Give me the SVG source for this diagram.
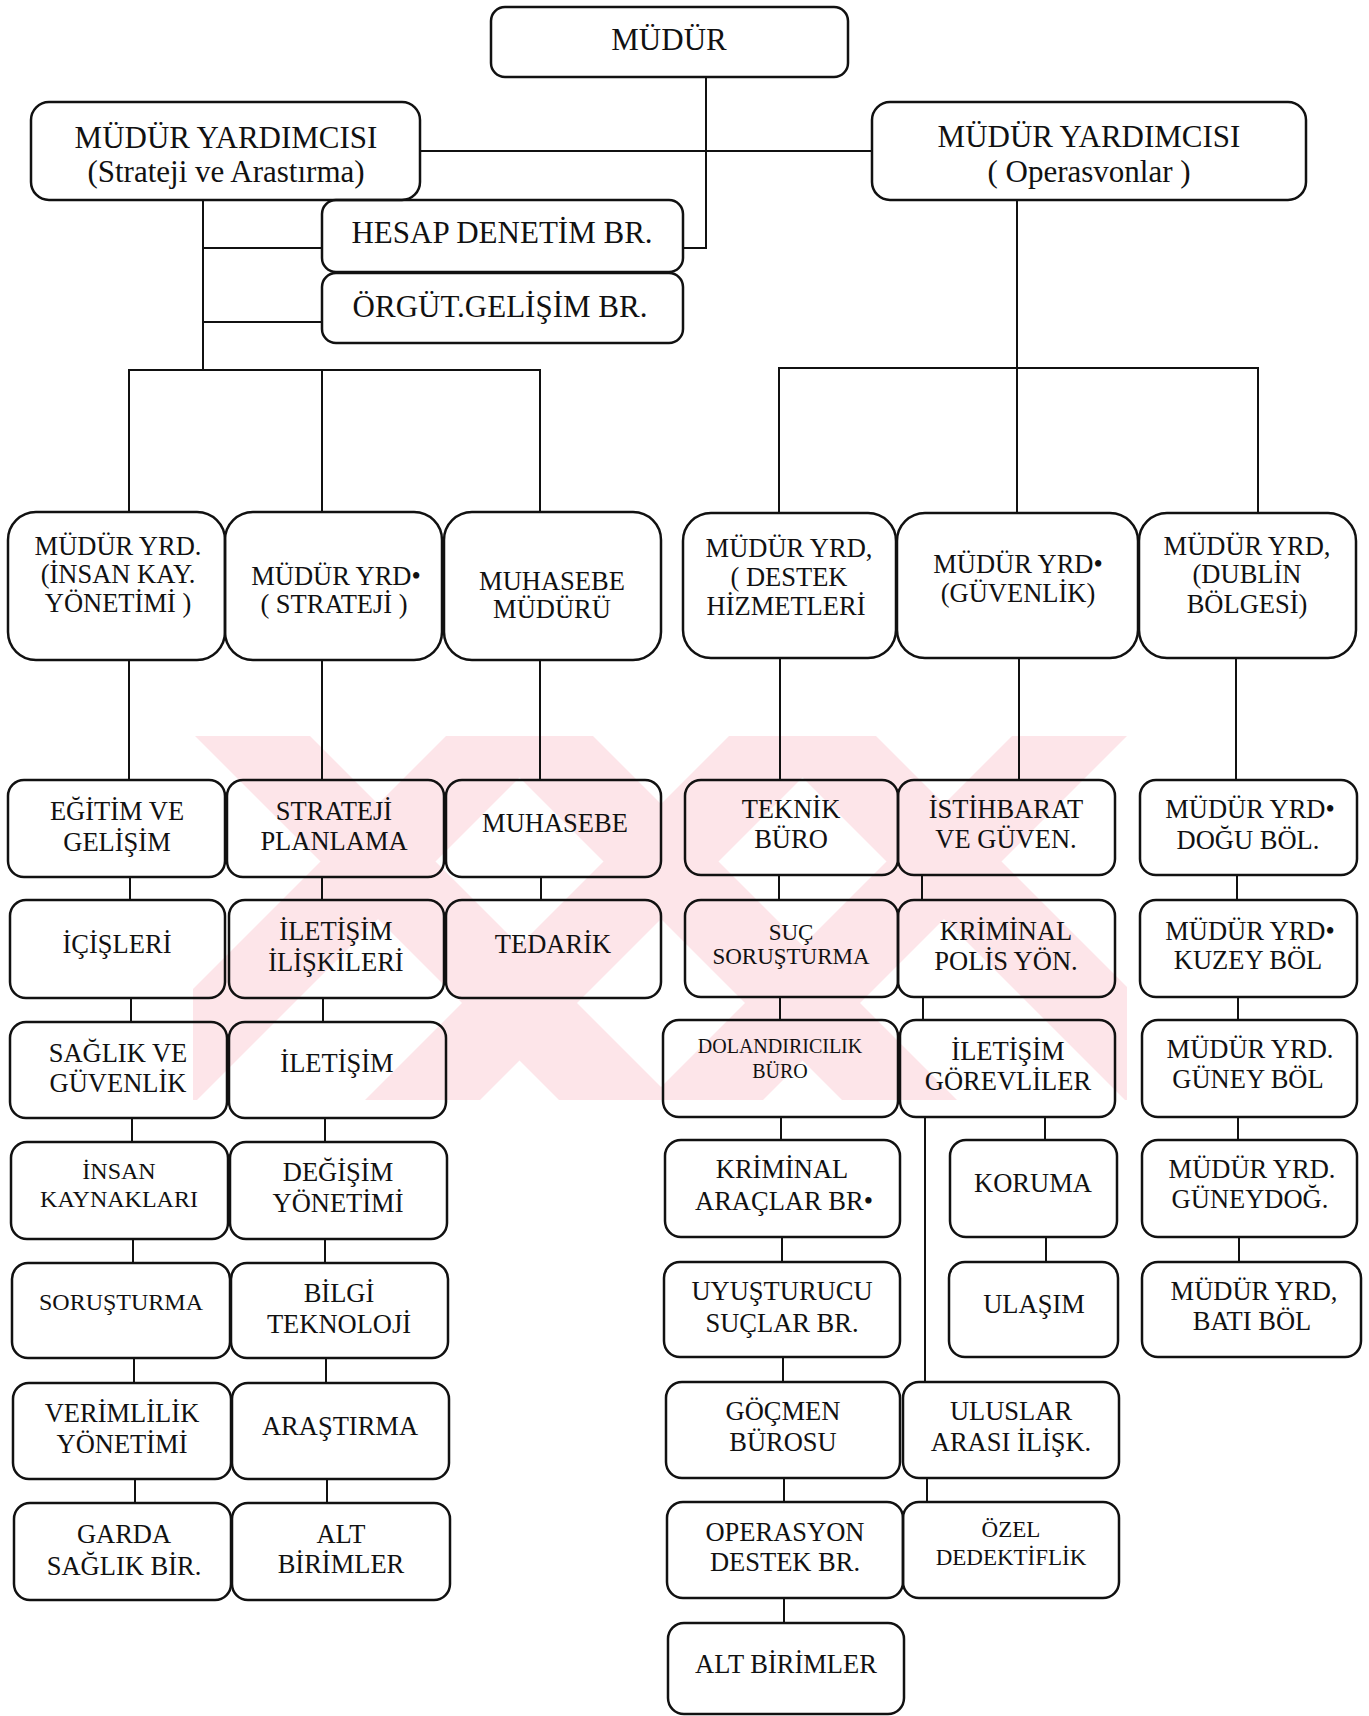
<svg xmlns="http://www.w3.org/2000/svg" width="1369" height="1716" viewBox="0 0 1369 1716">
<defs>
<style>
.b{fill:none;stroke:#111;stroke-width:2.5}
.t{font-family:"Liberation Serif","Times New Roman",serif;fill:#111;text-anchor:middle;font-size:26.5px}
.f31{font-size:31px}
.f24{font-size:24px}
.f23{font-size:23px}
.f20{font-size:20px}
.c{stroke:#111;stroke-width:2;fill:none}
.wm{fill:#fde5e9}
</style>
<clipPath id="wmc"><rect x="193" y="736" width="934" height="364"/></clipPath>
</defs>
<rect x="0" y="0" width="1369" height="1716" fill="#fff"/>
<g id="watermark" clip-path="url(#wmc)" class="wm">
<polygon points="195,736 310,736 674,1100 559,1100"/>
<polygon points="478,736 593,736 957,1100 842,1100"/>
<polygon points="761,736 876,736 1240,1100 1125,1100"/>
<polygon points="1012,736 1127,736 763,1100 648,1100"/>
<polygon points="729,736 844,736 480,1100 365,1100"/>
<polygon points="446,736 561,736 197,1100 82,1100"/>
</g>
<g id="connectors">
<polyline class="c" points="706,77 706,248 683,248"/>
<line class="c" x1="420" y1="151" x2="872" y2="151"/>
<line class="c" x1="203" y1="200" x2="203" y2="370"/>
<line class="c" x1="203" y1="248" x2="322" y2="248"/>
<line class="c" x1="203" y1="322" x2="322" y2="322"/>
<polyline class="c" points="129,512 129,370 540,370 540,512"/>
<line class="c" x1="322" y1="370" x2="322" y2="512"/>
<line class="c" x1="1017" y1="200" x2="1017" y2="513"/>
<polyline class="c" points="779,513 779,368 1258,368 1258,513"/>
<line class="c" x1="129" y1="660" x2="129" y2="780"/>
<line class="c" x1="322" y1="660" x2="322" y2="780"/>
<line class="c" x1="540" y1="660" x2="540" y2="780"/>
<line class="c" x1="780" y1="658" x2="780" y2="780"/>
<line class="c" x1="1019" y1="658" x2="1019" y2="780"/>
<line class="c" x1="1236" y1="658" x2="1236" y2="780"/>
<line class="c" x1="130" y1="877" x2="130" y2="900"/>
<line class="c" x1="131" y1="998" x2="131" y2="1022"/>
<line class="c" x1="132" y1="1118" x2="132" y2="1142"/>
<line class="c" x1="133" y1="1239" x2="133" y2="1263"/>
<line class="c" x1="134" y1="1358" x2="134" y2="1383"/>
<line class="c" x1="135" y1="1479" x2="135" y2="1503"/>
<line class="c" x1="322" y1="877" x2="322" y2="900"/>
<line class="c" x1="323" y1="998" x2="323" y2="1022"/>
<line class="c" x1="325" y1="1118" x2="325" y2="1142"/>
<line class="c" x1="325" y1="1239" x2="325" y2="1263"/>
<line class="c" x1="326" y1="1358" x2="326" y2="1383"/>
<line class="c" x1="327" y1="1479" x2="327" y2="1503"/>
<line class="c" x1="541" y1="877" x2="541" y2="900"/>
<line class="c" x1="779" y1="875" x2="779" y2="900"/>
<line class="c" x1="780" y1="997" x2="780" y2="1020"/>
<line class="c" x1="781" y1="1117" x2="781" y2="1140"/>
<line class="c" x1="782" y1="1237" x2="782" y2="1262"/>
<line class="c" x1="783" y1="1357" x2="783" y2="1382"/>
<line class="c" x1="784" y1="1478" x2="784" y2="1502"/>
<line class="c" x1="784" y1="1598" x2="784" y2="1623"/>
<line class="c" x1="922" y1="875" x2="922" y2="900"/>
<line class="c" x1="923" y1="997" x2="923" y2="1020"/>
<line class="c" x1="925" y1="1117" x2="925" y2="1382"/>
<line class="c" x1="1045" y1="1117" x2="1045" y2="1140"/>
<line class="c" x1="1046" y1="1237" x2="1046" y2="1262"/>
<line class="c" x1="927" y1="1478" x2="927" y2="1502"/>
<line class="c" x1="1237" y1="875" x2="1237" y2="900"/>
<line class="c" x1="1238" y1="997" x2="1238" y2="1020"/>
<line class="c" x1="1238" y1="1117" x2="1238" y2="1140"/>
<line class="c" x1="1239" y1="1237" x2="1239" y2="1262"/>
</g>
<g id="n_mudur"><rect class="b" x="491" y="7" width="357" height="70" rx="14"/><text class="t f31" x="669" y="50">MÜDÜR</text></g>
<g id="n_mys"><rect class="b" x="31" y="102" width="389" height="98" rx="18"/><text class="t f31" x="226" y="148">MÜDÜR YARDIMCISI</text><text class="t f31" x="226" y="182">(Strateji ve Arastırma)</text></g>
<g id="n_myo"><rect class="b" x="872" y="102" width="434" height="98" rx="18"/><text class="t f31" x="1089" y="147">MÜDÜR YARDIMCISI</text><text class="t f31" x="1089" y="182">( Operasvonlar )</text></g>
<g id="n_hesap"><rect class="b" x="322" y="200" width="361" height="72" rx="14"/><text class="t f31" x="502" y="243">HESAP DENETİM BR.</text></g>
<g id="n_orgut"><rect class="b" x="322" y="273" width="361" height="70" rx="14"/><text class="t f31" x="500" y="317">ÖRGÜT.GELİŞİM BR.</text></g>
<g id="n_l2_ik"><rect class="b" x="8" y="512" width="217" height="148" rx="28"/><text class="t" x="118" y="555">MÜDÜR YRD.</text><text class="t" x="118" y="583">(İNSAN KAY.</text><text class="t" x="118" y="612">YÖNETİMİ )</text></g>
<g id="n_l2_str"><rect class="b" x="225" y="512" width="217" height="148" rx="28"/><text class="t" x="336" y="585">MÜDÜR YRD•</text><text class="t" x="334" y="613">( STRATEJİ )</text></g>
<g id="n_l2_muh"><rect class="b" x="444" y="512" width="217" height="148" rx="28"/><text class="t" x="552" y="590">MUHASEBE</text><text class="t" x="552" y="618">MÜDÜRÜ</text></g>
<g id="n_l2_des"><rect class="b" x="683" y="513" width="213" height="145" rx="28"/><text class="t" x="789" y="557">MÜDÜR YRD,</text><text class="t" x="789" y="586">( DESTEK</text><text class="t" x="786" y="615">HİZMETLERİ</text></g>
<g id="n_l2_guv"><rect class="b" x="897" y="513" width="241" height="145" rx="28"/><text class="t" x="1018" y="573">MÜDÜR YRD•</text><text class="t" x="1018" y="602">(GÜVENLİK)</text></g>
<g id="n_l2_dub"><rect class="b" x="1139" y="513" width="217" height="145" rx="28"/><text class="t" x="1247" y="555">MÜDÜR YRD,</text><text class="t" x="1247" y="583">(DUBLİN</text><text class="t" x="1247" y="613">BÖLGESİ)</text></g>
<g id="n_egitim"><rect class="b" x="8" y="780" width="217" height="97" rx="16"/><text class="t" x="117" y="820">EĞİTİM VE</text><text class="t" x="117" y="851">GELİŞİM</text></g>
<g id="n_strplan"><rect class="b" x="227" y="780" width="217" height="97" rx="16"/><text class="t" x="334" y="820">STRATEJİ</text><text class="t" x="334" y="850">PLANLAMA</text></g>
<g id="n_muhasebe"><rect class="b" x="446" y="780" width="215" height="97" rx="16"/><text class="t" x="555" y="832">MUHASEBE</text></g>
<g id="n_icisleri"><rect class="b" x="10" y="900" width="215" height="98" rx="16"/><text class="t" x="117" y="953">İÇİŞLERİ</text></g>
<g id="n_iletilis"><rect class="b" x="229" y="900" width="215" height="98" rx="16"/><text class="t" x="336" y="940">İLETİŞİM</text><text class="t" x="336" y="971">İLİŞKİLERİ</text></g>
<g id="n_tedarik"><rect class="b" x="446" y="900" width="215" height="98" rx="16"/><text class="t" x="553" y="953">TEDARİK</text></g>
<g id="n_saglik"><rect class="b" x="10" y="1022" width="217" height="96" rx="16"/><text class="t" x="118" y="1062">SAĞLIK VE</text><text class="t" x="118" y="1092">GÜVENLİK</text></g>
<g id="n_iletisim"><rect class="b" x="229" y="1022" width="217" height="96" rx="16"/><text class="t" x="337" y="1072">İLETİŞİM</text></g>
<g id="n_insan"><rect class="b" x="11" y="1142" width="217" height="97" rx="16"/><text class="t f24" x="119" y="1179">İNSAN</text><text class="t f24" x="119" y="1207">KAYNAKLARI</text></g>
<g id="n_degisim"><rect class="b" x="230" y="1142" width="217" height="97" rx="16"/><text class="t" x="338" y="1181">DEĞİŞİM</text><text class="t" x="338" y="1212">YÖNETİMİ</text></g>
<g id="n_sorusturma"><rect class="b" x="12" y="1263" width="218" height="95" rx="16"/><text class="t f24" x="121" y="1310">SORUŞTURMA</text></g>
<g id="n_bilgi"><rect class="b" x="231" y="1263" width="217" height="95" rx="16"/><text class="t" x="339" y="1302">BİLGİ</text><text class="t" x="339" y="1333">TEKNOLOJİ</text></g>
<g id="n_verim"><rect class="b" x="13" y="1383" width="218" height="96" rx="16"/><text class="t" x="122" y="1422">VERİMLİLİK</text><text class="t" x="122" y="1453">YÖNETİMİ</text></g>
<g id="n_arastirma"><rect class="b" x="232" y="1383" width="217" height="96" rx="16"/><text class="t" x="340" y="1435">ARAŞTIRMA</text></g>
<g id="n_garda"><rect class="b" x="14" y="1503" width="217" height="97" rx="16"/><text class="t" x="124" y="1543">GARDA</text><text class="t" x="124" y="1575">SAĞLIK BİR.</text></g>
<g id="n_alt1"><rect class="b" x="232" y="1503" width="218" height="97" rx="16"/><text class="t" x="341" y="1543">ALT</text><text class="t" x="341" y="1573">BİRİMLER</text></g>
<g id="n_teknik"><rect class="b" x="685" y="780" width="213" height="95" rx="16"/><text class="t" x="791" y="818">TEKNİK</text><text class="t" x="791" y="848">BÜRO</text></g>
<g id="n_istihbarat"><rect class="b" x="898" y="780" width="217" height="95" rx="16"/><text class="t" x="1006" y="818">İSTİHBARAT</text><text class="t" x="1006" y="848">VE GÜVEN.</text></g>
<g id="n_dogu"><rect class="b" x="1140" y="780" width="217" height="95" rx="16"/><text class="t" x="1250" y="818">MÜDÜR YRD•</text><text class="t" x="1248" y="849">DOĞU BÖL.</text></g>
<g id="n_suc"><rect class="b" x="685" y="900" width="213" height="97" rx="16"/><text class="t f23" x="791" y="940">SUÇ</text><text class="t f23" x="791" y="964">SORUŞTURMA</text></g>
<g id="n_kriminal"><rect class="b" x="898" y="900" width="217" height="97" rx="16"/><text class="t" x="1006" y="940">KRİMİNAL</text><text class="t" x="1006" y="970">POLİS YÖN.</text></g>
<g id="n_kuzey"><rect class="b" x="1140" y="900" width="217" height="97" rx="16"/><text class="t" x="1250" y="940">MÜDÜR YRD•</text><text class="t" x="1248" y="969">KUZEY BÖL</text></g>
<g id="n_dolan"><rect class="b" x="663" y="1020" width="235" height="97" rx="16"/><text class="t f20" x="780" y="1053">DOLANDIRICILIK</text><text class="t f20" x="780" y="1078">BÜRO</text></g>
<g id="n_iletgor"><rect class="b" x="900" y="1020" width="215" height="97" rx="16"/><text class="t" x="1008" y="1060">İLETİŞİM</text><text class="t" x="1008" y="1090">GÖREVLİLER</text></g>
<g id="n_guney"><rect class="b" x="1142" y="1020" width="215" height="97" rx="16"/><text class="t" x="1250" y="1058">MÜDÜR YRD.</text><text class="t" x="1248" y="1088">GÜNEY BÖL</text></g>
<g id="n_kraraclar"><rect class="b" x="665" y="1140" width="235" height="97" rx="16"/><text class="t" x="782" y="1178">KRİMİNAL</text><text class="t" x="784" y="1210">ARAÇLAR BR•</text></g>
<g id="n_koruma"><rect class="b" x="950" y="1140" width="167" height="97" rx="16"/><text class="t" x="1033" y="1192">KORUMA</text></g>
<g id="n_guneydog"><rect class="b" x="1142" y="1140" width="215" height="97" rx="16"/><text class="t" x="1252" y="1178">MÜDÜR YRD.</text><text class="t" x="1250" y="1208">GÜNEYDOĞ.</text></g>
<g id="n_uyusturucu"><rect class="b" x="664" y="1262" width="236" height="95" rx="16"/><text class="t" x="782" y="1300">UYUŞTURUCU</text><text class="t" x="782" y="1332">SUÇLAR BR.</text></g>
<g id="n_ulasim"><rect class="b" x="949" y="1262" width="169" height="95" rx="16"/><text class="t" x="1034" y="1313">ULAŞIM</text></g>
<g id="n_bati"><rect class="b" x="1142" y="1262" width="219" height="95" rx="16"/><text class="t" x="1254" y="1300">MÜDÜR YRD,</text><text class="t" x="1252" y="1330">BATI BÖL</text></g>
<g id="n_gocmen"><rect class="b" x="666" y="1382" width="234" height="96" rx="16"/><text class="t" x="783" y="1420">GÖÇMEN</text><text class="t" x="783" y="1451">BÜROSU</text></g>
<g id="n_uluslar"><rect class="b" x="903" y="1382" width="216" height="96" rx="16"/><text class="t" x="1011" y="1420">ULUSLAR</text><text class="t" x="1011" y="1451">ARASI İLİŞK.</text></g>
<g id="n_operasyon"><rect class="b" x="667" y="1502" width="236" height="96" rx="16"/><text class="t" x="785" y="1541">OPERASYON</text><text class="t" x="785" y="1571">DESTEK BR.</text></g>
<g id="n_ozel"><rect class="b" x="903" y="1502" width="216" height="96" rx="16"/><text class="t f23" x="1011" y="1537">ÖZEL</text><text class="t f23" x="1011" y="1565">DEDEKTİFLİK</text></g>
<g id="n_alt2"><rect class="b" x="668" y="1623" width="236" height="91" rx="16"/><text class="t" x="786" y="1673">ALT BİRİMLER</text></g>
</svg>
